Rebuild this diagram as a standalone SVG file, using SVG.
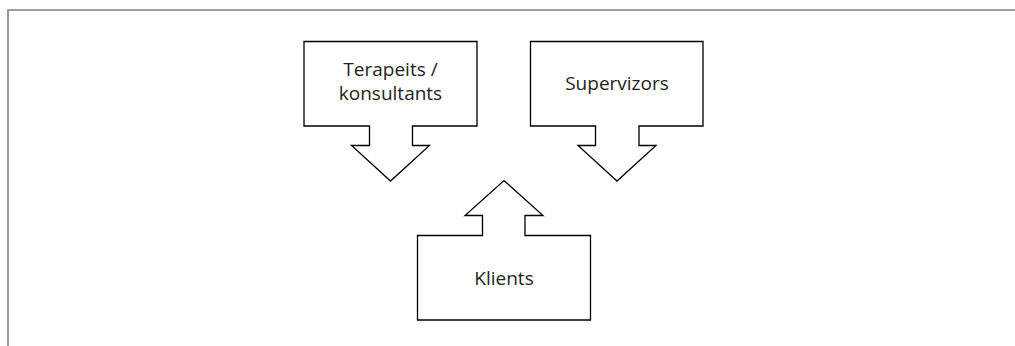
<svg xmlns="http://www.w3.org/2000/svg" width="1015" height="346" viewBox="0 0 1015 346">
<style>
.shape{fill:#fff;stroke:#000;stroke-width:1.3;stroke-linejoin:miter}
.lbl{font-family:"Open Sans","Liberation Sans",sans-serif;font-size:19px;fill:#231f20;text-anchor:middle}
.frame{fill:none;stroke:#808080;stroke-width:1.6}
</style>
<rect width="1015" height="346" fill="#fff"/>
<path class="frame" d="M8,346 V10 H1015"/>
<g id="node-terapeits">
<path class="shape" d="M304,41.5 H477 V126 H412.5 V145.5 H429.5 L390.5,181 L351.5,145.5 H369.5 V126 H304 Z"/>
<text class="lbl"><tspan x="390.5" y="76">Terapeits /</tspan><tspan x="390.5" y="99.5">konsultants</tspan></text>
</g>
<g id="node-supervizors">
<path class="shape" d="M530.5,41.5 H703 V126 H639 V145.5 H656 L617,181 L578,145.5 H595.5 V126 H530.5 Z"/>
<text class="lbl" x="617" y="90">Supervizors</text>
</g>
<g id="node-klients">
<path class="shape" d="M417.5,235.5 H482.5 V215.5 H465 L504,180.5 L543,215.5 H525 V235.5 H590.5 V320 H417.5 Z"/>
<text class="lbl" x="504" y="284.5">Klients</text>
</g>
<g id="connectors"></g>
</svg>
